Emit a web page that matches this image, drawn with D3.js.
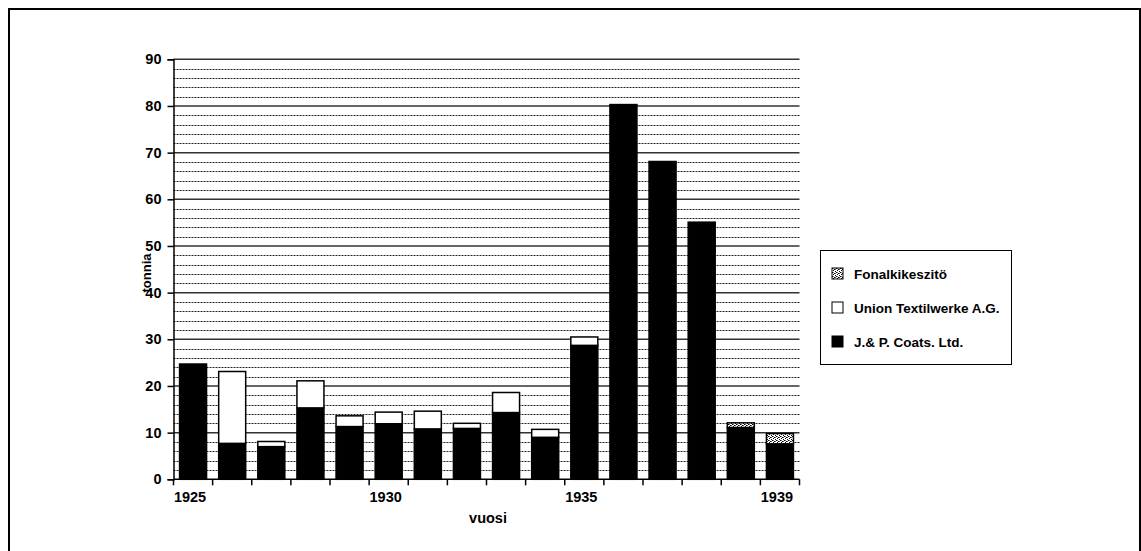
<!DOCTYPE html>
<html>
<head>
<meta charset="utf-8">
<script src="https://cdn.jsdelivr.net/npm/d3@7"></script>
<style>
  body { margin: 0; background: #fff; }
  svg { font-family: Arial, "Liberation Sans", sans-serif; font-weight: bold; }
</style>
</head>
<body>
<svg id="chart" width="1141" height="551"></svg>
<script>
// 16 columns, only some years labelled on the axis
const categories = ["c0","c1","c2","c3","c4","c5","c6","c7","c8","c9","c10","c11","c12","c13","c14","c15"];
const tickLabels = ["1925","","","","","1930","","","","","1935","","","","","1939"];

const coats  = [24.7, 7.7, 7.0, 15.3, 11.3, 11.9, 10.8, 10.9, 14.3, 9.0, 28.7, 80.3, 68.1, 55.1, 11.1, 7.6];
const union  = [0, 15.4, 1.1, 5.8, 2.3, 2.5, 3.8, 1.1, 4.3, 1.7, 1.8, 0, 0, 0, 0, 0];
const fonal  = [0, 0, 0, 0, 0, 0, 0, 0, 0, 0, 0, 0, 0, 0, 1.0, 2.2];

const seriesNames = ["J.& P. Coats. Ltd.", "Union Textilwerke A.G.", "Fonalkikeszitö"];
const yTicks = [0, 10, 20, 30, 40, 50, 60, 70, 80, 90];

const svg = d3.select("#chart");

// dithered grey pattern
const defs = svg.append("defs");
const pat = defs.append("pattern")
    .attr("id", "dither")
    .attr("width", 4).attr("height", 4)
    .attr("patternUnits", "userSpaceOnUse");
pat.append("rect").attr("width", 4).attr("height", 4).attr("fill", "#fff");
pat.append("rect").attr("x", 0).attr("y", 0).attr("width", 1).attr("height", 1).attr("fill", "#000");
pat.append("rect").attr("x", 2).attr("y", 1).attr("width", 1).attr("height", 1).attr("fill", "#000");
pat.append("rect").attr("x", 1).attr("y", 2).attr("width", 1).attr("height", 1).attr("fill", "#000");
pat.append("rect").attr("x", 3).attr("y", 3).attr("width", 1).attr("height", 1).attr("fill", "#000");
pat.append("rect").attr("x", 3).attr("y", 1).attr("width", 1).attr("height", 1).attr("fill", "#555");
pat.append("rect").attr("x", 1).attr("y", 0).attr("width", 1).attr("height", 1).attr("fill", "#777");

// outer frame
svg.append("rect")
    .attr("x", 9).attr("y", 9)
    .attr("width", 1131).attr("height", 560)
    .attr("fill", "none")
    .attr("stroke", "#000")
    .attr("stroke-width", 2);

const plotLeft = 173.5, plotRight = 799.5, plotTop = 59.3, plotBottom = 479.3;

const x = d3.scaleBand()
    .domain(categories)
    .range([plotLeft, plotRight])
    .paddingInner(0.31)
    .paddingOuter(0.155);

const y = d3.scaleLinear()
    .domain([0, 90])
    .range([plotBottom, plotTop]);

// gridlines: dashed every 2, solid every 10
const minor = d3.range(2, 90, 2).filter(v => v % 10 !== 0);
svg.append("g").selectAll("line")
    .data(minor)
    .join("line")
    .attr("x1", plotLeft).attr("x2", plotRight)
    .attr("y1", d => Math.round(y(d)) + 0.5)
    .attr("y2", d => Math.round(y(d)) + 0.5)
    .attr("stroke", "#222")
    .attr("stroke-width", 1)
    .attr("stroke-dasharray", "2,1");

svg.append("g").selectAll("line")
    .data(yTicks.filter(v => v > 0))
    .join("line")
    .attr("x1", plotLeft).attr("x2", plotRight)
    .attr("y1", d => y(d))
    .attr("y2", d => y(d))
    .attr("stroke", "#333")
    .attr("stroke-width", 1.5);

// stacked bars
const stackData = categories.map((c, i) => ({ cat: c, coats: coats[i], union: union[i], fonal: fonal[i] }));
const stacked = d3.stack().keys(["coats", "union", "fonal"])(stackData);
const fills = { coats: "#000", union: "#fff", fonal: "url(#dither)" };

svg.append("g").selectAll("g")
    .data(stacked)
    .join("g")
    .attr("fill", d => fills[d.key])
    .selectAll("rect")
    .data(d => d.filter(p => p[1] - p[0] > 0))
    .join("rect")
    .attr("x", d => x(d.data.cat))
    .attr("y", d => y(d[1]))
    .attr("width", x.bandwidth())
    .attr("height", d => y(d[0]) - y(d[1]))
    .attr("stroke", "#000")
    .attr("stroke-width", 1.5);

// y axis
const yAxis = svg.append("g")
    .attr("transform", "translate(" + plotLeft + ",0)")
    .call(d3.axisLeft(y).tickValues(yTicks).tickSize(6).tickPadding(6));
yAxis.select(".domain").attr("stroke", "#000").attr("stroke-width", 1.5);
yAxis.selectAll(".tick line").attr("stroke", "#000").attr("stroke-width", 1.5);
yAxis.selectAll("text")
    .style("font-size", "14.5px")
    .style("font-weight", "bold")
    .attr("fill", "#000");

// x axis: ticks between categories
const xAxisG = svg.append("g");
xAxisG.append("line")
    .attr("x1", plotLeft).attr("x2", plotRight)
    .attr("y1", plotBottom).attr("y2", plotBottom)
    .attr("stroke", "#000").attr("stroke-width", 1.5);
const step = x.step();
xAxisG.selectAll(".xt")
    .data(d3.range(categories.length + 1))
    .join("line")
    .attr("class", "xt")
    .attr("x1", i => plotLeft + i * step)
    .attr("x2", i => plotLeft + i * step)
    .attr("y1", plotBottom)
    .attr("y2", plotBottom + 6)
    .attr("stroke", "#000").attr("stroke-width", 1.5);
xAxisG.selectAll(".xl")
    .data(categories)
    .join("text")
    .attr("class", "xl")
    .attr("x", d => x(d) + x.bandwidth() / 2 - 3)
    .attr("y", plotBottom + 23)
    .attr("text-anchor", "middle")
    .style("font-size", "14.5px")
    .text((d, i) => tickLabels[i]);

// axis titles
svg.append("text")
    .attr("transform", "translate(151,273) rotate(-90)")
    .attr("text-anchor", "middle")
    .style("font-size", "13px")
    .text("tonnia");

svg.append("text")
    .attr("x", 488)
    .attr("y", 523)
    .attr("text-anchor", "middle")
    .style("font-size", "14.5px")
    .text("vuosi");

// legend
const legend = svg.append("g");
legend.append("rect")
    .attr("x", 820.5).attr("y", 250.5)
    .attr("width", 191).attr("height", 114)
    .attr("fill", "#fff")
    .attr("stroke", "#000")
    .attr("stroke-width", 1);

const legendItems = [
    { name: seriesNames[2], fill: fills.fonal },
    { name: seriesNames[1], fill: fills.union },
    { name: seriesNames[0], fill: fills.coats }
];
const li = legend.selectAll(".li")
    .data(legendItems)
    .join("g")
    .attr("class", "li")
    .attr("transform", (d, i) => "translate(832," + (268 + i * 34) + ")");
li.append("rect")
    .attr("width", 11).attr("height", 11)
    .attr("fill", d => d.fill)
    .attr("stroke", "#000")
    .attr("stroke-width", 1);
li.append("text")
    .attr("x", 22)
    .attr("y", 11)
    .style("font-size", "13.5px")
    .text(d => d.name);
</script>
</body>
</html>
